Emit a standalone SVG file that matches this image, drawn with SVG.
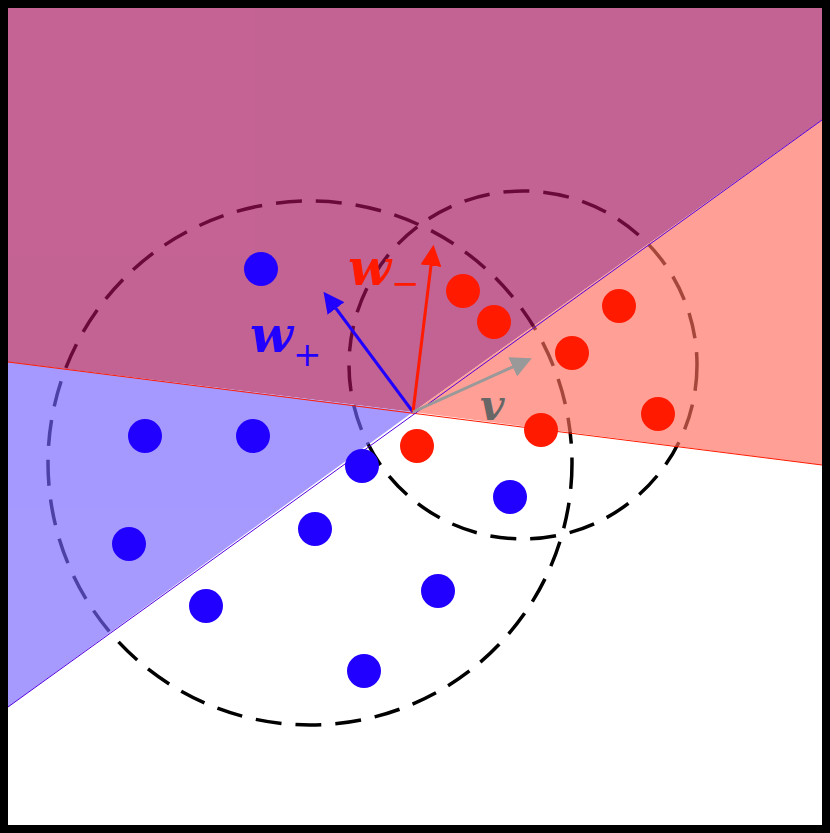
<svg xmlns="http://www.w3.org/2000/svg" width="830" height="833" viewBox="0 0 830 833">
<defs>
<style>
.c{fill:none;stroke:#000;stroke-width:3.5;stroke-dasharray:26 14}
.b{fill:#2200ff}.r{fill:#ff1a00}
.lbl{font-family:"DejaVu Serif",serif;font-style:italic;font-weight:bold}
</style>
<marker id="mb" viewBox="0 0 10 10" refX="8" refY="5" markerWidth="7" markerHeight="7" orient="auto"><path d="M0,0L10,5L0,10z" fill="#2200ff"/></marker>
<marker id="mr" viewBox="0 0 10 10" refX="8" refY="5" markerWidth="7" markerHeight="7" orient="auto"><path d="M0,0L10,5L0,10z" fill="#ff1a00"/></marker>
<marker id="mg" viewBox="0 0 10 10" refX="8" refY="5" markerWidth="7" markerHeight="7" orient="auto"><path d="M0,0L10,5L0,10z" fill="#999"/></marker>
</defs>
<rect x="0" y="0" width="830" height="833" fill="#fff"/>
<g id="circles">
<circle class="c" cx="310" cy="463" r="262"/>
<circle class="c" cx="523" cy="365" r="174"/>
</g>
<g id="regions" opacity="0.65">
<polygon points="8,8 822,8 822,120 413,412 8,362" fill="#a4105a"/>
<polygon points="8,362 413,412 8,707" fill="#7664ff"/>
<polygon points="822,120 822,465 413,412" fill="#ff6d5d"/>
</g>
<g id="connectors">
<line x1="8" y1="362" x2="822" y2="465" stroke="#ff1a00" stroke-width="1"/>
<line x1="8" y1="707" x2="822" y2="120" stroke="#5500dd" stroke-width="1"/>
<line x1="413" y1="412" x2="326" y2="295" stroke="#2200ff" stroke-width="3" marker-end="url(#mb)"/>
<line x1="413" y1="412" x2="433" y2="249" stroke="#ff1a00" stroke-width="3" marker-end="url(#mr)"/>
<line x1="413" y1="412" x2="528" y2="360" stroke="#999" stroke-width="3" marker-end="url(#mg)"/>
</g>
<g id="points">
<circle class="b" cx="261" cy="269" r="17"/><circle class="b" cx="145" cy="436" r="17"/>
<circle class="b" cx="253" cy="436" r="17"/><circle class="b" cx="362" cy="466" r="17"/>
<circle class="b" cx="129" cy="544" r="17"/><circle class="b" cx="315" cy="529" r="17"/>
<circle class="b" cx="206" cy="606" r="17"/><circle class="b" cx="510" cy="497" r="17"/>
<circle class="b" cx="438" cy="591" r="17"/><circle class="b" cx="364" cy="671" r="17"/>
<circle class="r" cx="463" cy="291" r="17"/><circle class="r" cx="494" cy="322" r="17"/>
<circle class="r" cx="619" cy="306" r="17"/><circle class="r" cx="572" cy="353" r="17"/>
<circle class="r" cx="541" cy="430" r="17"/><circle class="r" cx="658" cy="414" r="17"/>
<circle class="r" cx="417" cy="446" r="17"/>
</g>
<g id="labels">
<text class="lbl" x="250" y="352" font-size="50" fill="#2200ff">w<tspan font-size="34" dy="14" font-style="normal" font-weight="normal">+</tspan></text>
<text class="lbl" x="348" y="285" font-size="50" fill="#ff1a00">w<tspan font-size="34" dy="10" font-style="normal" font-weight="normal">−</tspan></text>
<text class="lbl" x="480" y="420" font-size="42" fill="#666">v</text>
</g>
<rect x="4" y="4" width="822" height="825" fill="none" stroke="#000" stroke-width="8"/>
</svg>
